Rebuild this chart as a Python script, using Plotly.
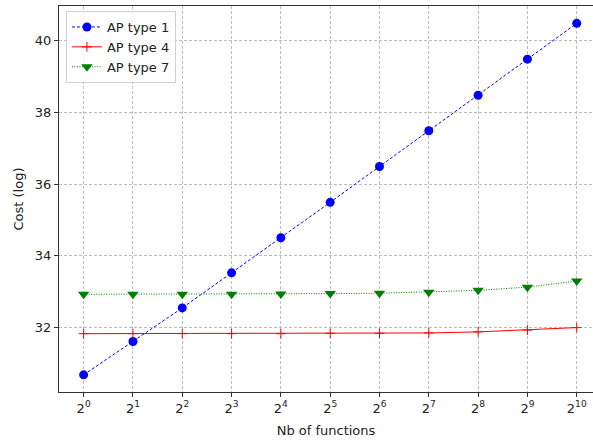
import math
import plotly.graph_objects as go

x_vals = [1, 2, 4, 8, 16, 32, 64, 128, 256, 512, 1024]
tick_text = ["2<sup>%d</sup>" % i for i in range(11)]

ap1 = [30.67, 31.60, 32.54, 33.52, 34.50, 35.49, 36.49, 37.49, 38.48, 39.49, 40.49]
ap4 = [31.82, 31.82, 31.82, 31.82, 31.82, 31.83, 31.83, 31.84, 31.87, 31.92, 31.99]
ap7 = [32.92, 32.92, 32.92, 32.92, 32.93, 32.94, 32.95, 32.98, 33.03, 33.12, 33.29]

fig = go.Figure()
fig.add_trace(go.Scatter(x=x_vals, y=ap1, name="AP type 1", mode="lines+markers",
                         line=dict(color="blue", width=1, dash="3px,2px"),
                         marker=dict(symbol="circle", size=9, color="blue")))
fig.add_trace(go.Scatter(x=x_vals, y=ap4, name="AP type 4", mode="lines+markers",
                         line=dict(color="red", width=1),
                         marker=dict(symbol="cross-thin", size=7, color="red",
                                     line=dict(width=1, color="red"))))
fig.add_trace(go.Scatter(x=x_vals, y=ap7, name="AP type 7", mode="lines+markers",
                         line=dict(color="green", width=1, dash="1px,1.5px"),
                         marker=dict(symbol="triangle-down", size=10, color="green")))

grid = "#bdbdbd"
fig.update_layout(
    width=593, height=441,
    margin=dict(l=59, r=0, t=6, b=49),
    paper_bgcolor="white", plot_bgcolor="white",
    font=dict(family="DejaVu Sans", size=13, color="#222222"),
    showlegend=True,
    legend=dict(x=0.013, y=0.987, xanchor="left", yanchor="top",
                bgcolor="rgba(255,255,255,0.85)", bordercolor="#d0d0d0", borderwidth=1,
                font=dict(family="DejaVu Sans", size=13, color="#222222"),
                itemwidth=30, tracegroupgap=0),
    xaxis=dict(type="log", range=[math.log10(2) * -0.5, math.log10(2) * 10.33],
               tickvals=x_vals, ticktext=tick_text, automargin=False,
               showgrid=True, gridcolor=grid, griddash="3px,2px", gridwidth=1,
               showline=True, linecolor="#333333", linewidth=1, mirror=True,
               ticks="outside", ticklen=4, tickcolor="#333333",
               zeroline=False,
               title=dict(text="Nb of functions", font=dict(size=13), standoff=11),
               tickfont=dict(size=13)),
    yaxis=dict(range=[30.19, 40.975], tickvals=[32, 34, 36, 38, 40], automargin=False,
               showgrid=True, gridcolor=grid, griddash="3px,2px", gridwidth=1,
               showline=True, linecolor="#333333", linewidth=1, mirror=False,
               ticks="outside", ticklen=4, tickcolor="#333333",
               zeroline=False,
               title=dict(text="Cost (log)", font=dict(size=13), standoff=8),
               tickfont=dict(size=13)),
)

fig.write_html("out.html", config={"displayModeBar": False},
               post_script="document.body.style.margin='0px';")
